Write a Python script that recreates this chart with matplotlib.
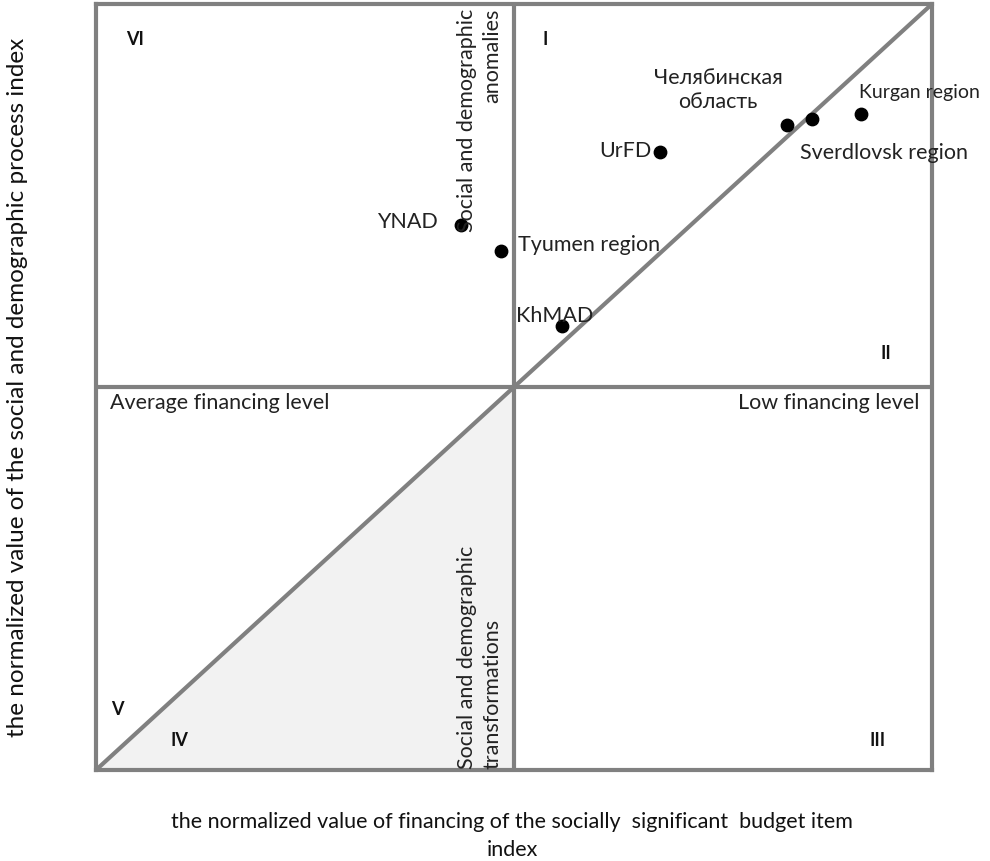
import matplotlib
matplotlib.use("Agg")
import matplotlib.pyplot as plt
from matplotlib.patches import Polygon

# Data (normalized values)
regions = ["YNAD", "Tyumen region", "KhMAD", "UrFD",
           "Челябинская\nобласть", "Sverdlovsk region", "Kurgan region"]
x_fin = [0.437, 0.485, 0.557, 0.675, 0.827, 0.856, 0.915]
y_soc = [0.711, 0.678, 0.580, 0.807, 0.842, 0.850, 0.856]

# label placements (offsets in points, alignment)
label_offsets = [(-17, 3), (12, 5), (-33, 8), (-6, 1), (-50, 26), (-8.5, -24), (-1.5, 16.5)]
label_ha = ["right", "left", "left", "right", "center", "left", "left"]
label_fs = [15.5, 15.5, 15.5, 15.5, 15.5, 15.5, 14]

zone_labels = ["I", "II", "III", "IV", "V", "VI"]
zone_pos = [(0.537, 0.955), (0.945, 0.545), (0.935, 0.04), (0.1, 0.04), (0.025, 0.08), (0.047, 0.955)]

FONT = ["Lato", "DejaVu Sans"]
GRAY = "#808080"
FS = 15.5

fig = plt.figure(figsize=(9.9, 8.62), dpi=100)
ax = fig.add_axes([96/990, 1 - 771/862, 836/990, 766/862])
ax.set_xlim(0, 1)
ax.set_ylim(0, 1)
ax.set_xticks([])
ax.set_yticks([])
for s in ax.spines.values():
    s.set_color(GRAY)
    s.set_linewidth(3)

# shaded triangle
ax.add_patch(Polygon([(0, 0), (0.5, 0), (0.5, 0.5)], closed=True,
                     facecolor="#f2f2f2", edgecolor="none", zorder=0))
ax.axvline(0.5, color=GRAY, lw=3, zorder=1)
ax.axhline(0.5, color=GRAY, lw=3, zorder=1)
ax.plot([0, 1], [0, 1], color=GRAY, lw=3, zorder=1, solid_capstyle="butt")

ax.scatter(x_fin, y_soc, s=80, color="black", zorder=3)
for name, x, y, off, ha, fs in zip(regions, x_fin, y_soc, label_offsets, label_ha, label_fs):
    ax.annotate(name, (x, y), xytext=off, textcoords="offset points",
                ha=ha, va="center", fontsize=fs, family=FONT, color="#222222",
                linespacing=1.3, zorder=4)

for lab, (zx, zy) in zip(zone_labels, zone_pos):
    ax.text(zx, zy, lab, ha="center", va="center", fontsize=13, fontweight="bold",
            family=FONT, color="#111111")

ax.text(0.017, 0.48, "Average financing level", ha="left", va="center",
        fontsize=FS, family=FONT, color="#222222")
ax.text(0.985, 0.48, "Low financing level", ha="right", va="center",
        fontsize=FS, family=FONT, color="#222222")

ax.text(0.459, 0.995, "Social and demographic\nanomalies", rotation=90,
        ha="center", va="top", multialignment="right", fontsize=FS,
        family=FONT, color="#222222", linespacing=1.3)
ax.text(0.459, 0.003, "Social and demographic\ntransformations", rotation=90,
        ha="center", va="bottom", multialignment="left", fontsize=FS,
        family=FONT, color="#222222", linespacing=1.3)

fig.text(512/990, 1 - 836/862,
         "the normalized value of financing of the socially  significant  budget item\nindex",
         ha="center", va="center", fontsize=15.5, family=FONT, color="#111111",
         linespacing=1.45)
fig.text(18/990, 1 - 387/862,
         "the normalized value of the social and demographic process index",
         rotation=90, ha="center", va="center", fontsize=17.5,
         family=FONT, color="#111111")

fig.savefig("out.png", dpi=100, facecolor="white")
